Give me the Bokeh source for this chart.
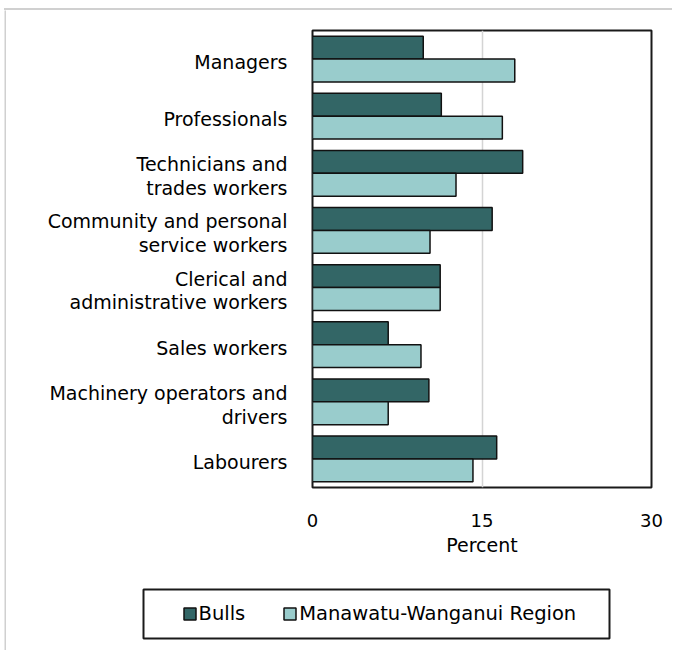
from bokeh.plotting import figure
from bokeh.layouts import column, row
from bokeh.models import (FactorRange, Range1d, FixedTicker, Legend, LegendItem,
                          BoxAnnotation, ColumnDataSource, Spacer)
from bokeh.core.properties import value
from bokeh.transform import dodge
from bokeh.embed import file_html
from bokeh.resources import INLINE

# ---- data ----
categories = [
    "Managers",
    "Professionals",
    "Technicians and trades workers",
    "Community and personal service workers",
    "Clerical and administrative workers",
    "Sales workers",
    "Machinery operators and drivers",
    "Labourers",
]
tick_labels = [
    "Managers",
    "Professionals",
    "Technicians and\ntrades workers",
    "Community and personal\nservice workers",
    "Clerical and\nadministrative workers",
    "Sales workers",
    "Machinery operators and\ndrivers",
    "Labourers",
]
bulls = [9.8, 11.4, 18.6, 15.9, 11.3, 6.7, 10.3, 16.3]
region = [17.9, 16.8, 12.7, 10.4, 11.3, 9.6, 6.7, 14.2]
series_names = ["Bulls", "Manawatu-Wanganui Region"]
x_ticks = [0, 15, 30]
x_label = "Percent"

FONT = "DejaVu Sans"
DARK = "#336666"
LIGHT = "#99CCCC"
EDGE = "#111111"
FRAME_GRAY = "#d0d0d0"

src = ColumnDataSource(dict(cat=categories, label=tick_labels,
                            bulls=bulls, region=region))

STRIP = 2
ROW_H = 552
TOP = 20
BOT = 75
LW = 298      # label panel width
RW = 368      # bar panel width
LEG_H = 88


def bare(fig):
    fig.min_border = 0
    fig.min_border_left = 0
    fig.min_border_right = 0
    fig.min_border_top = 0
    fig.min_border_bottom = 0
    fig.outline_line_color = None
    fig.grid.grid_line_color = None
    return fig


# ---------- bar panel ----------
p = figure(width=RW, height=ROW_H,
           y_range=FactorRange(factors=categories[::-1]),
           x_range=Range1d(0, 30),
           output_backend="svg", toolbar_location=None,
           y_axis_location=None)
p.min_border_left = 8
p.min_border_right = 21
p.min_border_top = TOP
p.min_border_bottom = BOT

r1 = p.hbar(y=dodge("cat", 0.2, range=p.y_range), left=0, right="bulls",
            height=0.4, source=src, fill_color=DARK, line_color=EDGE,
            line_width=1.5)
r2 = p.hbar(y=dodge("cat", -0.2, range=p.y_range), left=0, right="region",
            height=0.4, source=src, fill_color=LIGHT, line_color=EDGE,
            line_width=1.5)

p.outline_line_color = "#1a1a1a"
p.outline_line_width = 2
p.border_fill_color = "white"

p.ygrid.grid_line_color = None
p.xgrid.ticker = FixedTicker(ticks=[15])
p.xgrid.grid_line_color = "#d4d4d4"
p.xgrid.grid_line_width = 1.5

xa = p.xaxis[0]
xa.ticker = FixedTicker(ticks=x_ticks)
xa.axis_line_color = None
xa.major_tick_line_color = None
xa.minor_tick_line_color = None
xa.major_label_standoff = 20
xa.major_label_text_font = FONT
xa.major_label_text_font_size = "18px"
xa.major_label_text_color = "black"
xa.axis_label = x_label
xa.axis_label_text_font = FONT
xa.axis_label_text_font_size = "19px"
xa.axis_label_text_font_style = "normal"
xa.axis_label_text_color = "black"
xa.axis_label_standoff = 4

# ---------- label panel ----------
q = figure(width=LW, height=ROW_H, y_range=p.y_range,
           x_range=Range1d(0, LW),
           output_backend="svg", toolbar_location=None,
           x_axis_location=None, y_axis_location=None)
bare(q)
q.min_border_top = TOP
q.min_border_bottom = BOT
q.text(x=281, y=dodge("cat", -0.05, range=p.y_range), text="label", source=src,
       text_align="right", text_baseline="middle",
       text_font=value(FONT), text_font_size=value("19px"),
       text_color="black", text_line_height=1.08)

# ---------- legend panel ----------
g = bare(figure(width=LW + RW, height=LEG_H, x_range=Range1d(0, LW + RW),
                y_range=Range1d(0, LEG_H),
                output_backend="svg", toolbar_location=None,
                x_axis_location=None, y_axis_location=None))
# off-range stand-ins that only carry the legend swatch styles
swatch_src = ColumnDataSource(dict(y=[-100], right=[0]))
d1 = g.hbar(y="y", left=0, right="right", height=1, source=swatch_src,
            fill_color=DARK, line_color=EDGE, line_width=1.5)
d2 = g.hbar(y="y", left=0, right="right", height=1, source=swatch_src,
            fill_color=LIGHT, line_color=EDGE, line_width=1.5)
legend = Legend(items=[LegendItem(label=series_names[0], renderers=[d1]),
                       LegendItem(label=series_names[1], renderers=[d2])],
                orientation="horizontal", location=(175.5, 25.5),
                padding=0, margin=0, spacing=37,
                glyph_width=15, glyph_height=15, label_standoff=2,
                border_line_color=None, background_fill_alpha=0,
                label_text_font=FONT, label_text_font_size="19.5px",
                label_text_color="black")
g.add_layout(legend)
legend_box = BoxAnnotation(left=137, right=603, top=61, bottom=12,
                           left_units="screen", right_units="screen",
                           top_units="screen", bottom_units="screen",
                           fill_color=None, fill_alpha=0,
                           line_color="#1a1a1a", line_alpha=1.0, line_width=2)
g.add_layout(legend_box)

# ---------- light outer frame strips ----------
top_strip = Spacer(width=STRIP + LW + RW, height=STRIP,
                   styles={"background-color": FRAME_GRAY})
left_strip = bare(figure(width=STRIP, height=ROW_H + LEG_H,
                         output_backend="svg", toolbar_location=None,
                         x_axis_location=None, y_axis_location=None))
left_strip.border_fill_color = FRAME_GRAY
left_strip.background_fill_color = FRAME_GRAY

layout = column(top_strip, row(left_strip, column(row(q, p), g)),
                margin=(8, 0, 0, 4))

open("out.html", "w").write(file_html(layout, INLINE))
